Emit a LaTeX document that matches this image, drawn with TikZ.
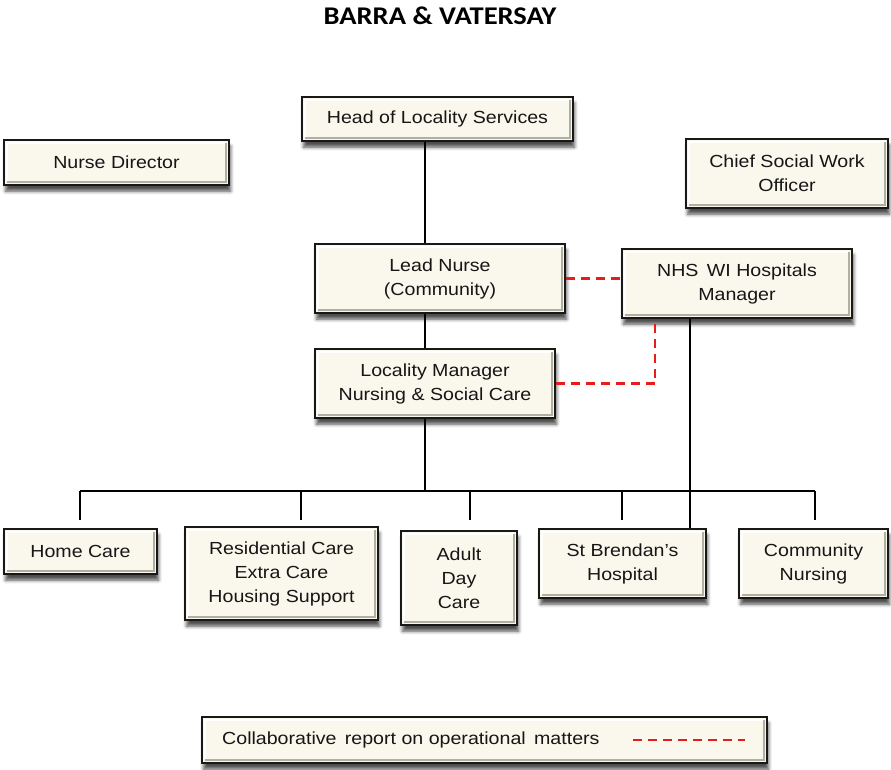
\documentclass[tikz,border=0pt]{standalone}
\usepackage{fontspec}
\setmainfont[FakeStretch=1.12]{Liberation Sans}
\newfontfamily\titlefont[FakeStretch=1.12]{Carlito}
\usetikzlibrary{shadows.blur}

\definecolor{boxfill}{RGB}{250,248,236}
\definecolor{boxedge}{RGB}{24,24,24}
\definecolor{beveldark}{RGB}{178,175,162}
\definecolor{txt}{RGB}{22,22,22}
\definecolor{collab}{RGB}{232,28,28}

\tikzset{
  orgbox/.style={
    draw=boxedge, line width=1.9pt, fill=boxfill, inner sep=0pt,
    align=center, text=txt, font=\fontsize{17.5}{24}\selectfont,
    blur shadow={shadow xshift=1.5pt, shadow yshift=-6pt,
                 shadow opacity=70, shadow blur radius=3.5pt},
    path picture={
      \draw[white, line width=2pt]
        ([shift={(2.6pt,2.6pt)}]path picture bounding box.south west)
        |- ([shift={(-2.6pt,-2.6pt)}]path picture bounding box.north east);
      \draw[beveldark, line width=2pt]
        ([shift={(2.6pt,2.6pt)}]path picture bounding box.south west)
        -| ([shift={(-2.6pt,-2.6pt)}]path picture bounding box.north east);
    }},
  link/.style={line width=2pt, draw=black},
  collabline/.style={line width=2.5pt, draw=collab, dash pattern=on 9pt off 6pt},
}

\begin{document}
\begin{tikzpicture}[x=1pt, y=-1pt]
  \useasboundingbox (0,0) rectangle (891,769);

  \node[font=\titlefont\bfseries\fontsize{25.5}{30}\selectfont, text=black]
    (title) at (440,16) {BARRA \& VATERSAY};

  % boxes
  \node[orgbox, minimum width=271pt, minimum height=44pt] (head) at (437.5,119) {Head of Locality Services};
  \node[orgbox, minimum width=225pt, minimum height=45pt] (nd) at (116.5,162.5) {Nurse Director};
  \node[orgbox, minimum width=202pt, minimum height=69pt] (csw) at (787,173.5) {Chief Social Work\\Officer};
  \node[orgbox, minimum width=250pt, minimum height=69pt] (lead) at (440,278.5) {Lead Nurse\\(Community)};
  \node[orgbox, minimum width=230pt, minimum height=69pt] (nhs) at (737,283.5) {NHS\, WI Hospitals\\Manager};
  \node[orgbox, minimum width=240pt, minimum height=69pt] (lm) at (435,383.5) {Locality Manager\\Nursing \& Social Care};
  \node[orgbox, minimum width=153pt, minimum height=45pt] (home) at (80.5,551.5) {Home Care};
  \node[orgbox, minimum width=193pt, minimum height=93pt] (res) at (281.5,573.5) {Residential Care\\Extra Care\\Housing Support};
  \node[orgbox, minimum width=116pt, minimum height=94pt] (adult) at (459,578) {Adult\\Day\\Care};
  \node[orgbox, minimum width=167pt, minimum height=69pt] (stb) at (622.5,563.5) {St Brendan’s\\Hospital};
  \node[orgbox, minimum width=149pt, minimum height=69pt] (cn) at (813.5,563.5) {Community\\Nursing};

  % legend
  \node[orgbox, minimum width=565pt, minimum height=46pt] (legend) at (484.5,740) {};
  \node[anchor=west, inner sep=0pt, text=txt, font=\fontsize{17.5}{24}\selectfont]
    (legtext) at (222,740) {Collaborative\, report on operational\, matters};
  \coordinate (legA) at (633,740);
  \coordinate (legB) at (745,740);
  \draw[collabline] (legA) -- (legB);

  % line-management tree
  \coordinate (spine) at (425,491);
  \coordinate (busL) at (80,491);
  \coordinate (busR) at (815,491);
  \coordinate (dHome) at (80,520);
  \coordinate (dRes) at (301,520);
  \coordinate (dAdult) at (470,520);
  \coordinate (dStb) at (622,520);
  \coordinate (dCn) at (815,520);
  \coordinate (nhsdrop) at (690,0);

  \draw[link] (head.south -| spine) -- (lead.north -| spine);
  \draw[link] (lead.south -| spine) -- (lm.north -| spine);
  \draw[link] (lm.south -| spine) -- (spine);
  \draw[link] (busL) -- (busR);
  \foreach \d in {dHome,dRes,dAdult,dStb,dCn}
    \draw[link] (\d |- spine) -- (\d);
  \draw[link] (nhs.south -| nhsdrop) -- (stb.north -| nhsdrop);

  % collaborative links
  \coordinate (knee) at (655,0);
  \draw[collabline] (lead.east) -- (lead.east -| nhs.west);
  \draw[collabline] (lm.east) -- (lm.east -| knee) -- (nhs.south -| knee);
\end{tikzpicture}
\end{document}
